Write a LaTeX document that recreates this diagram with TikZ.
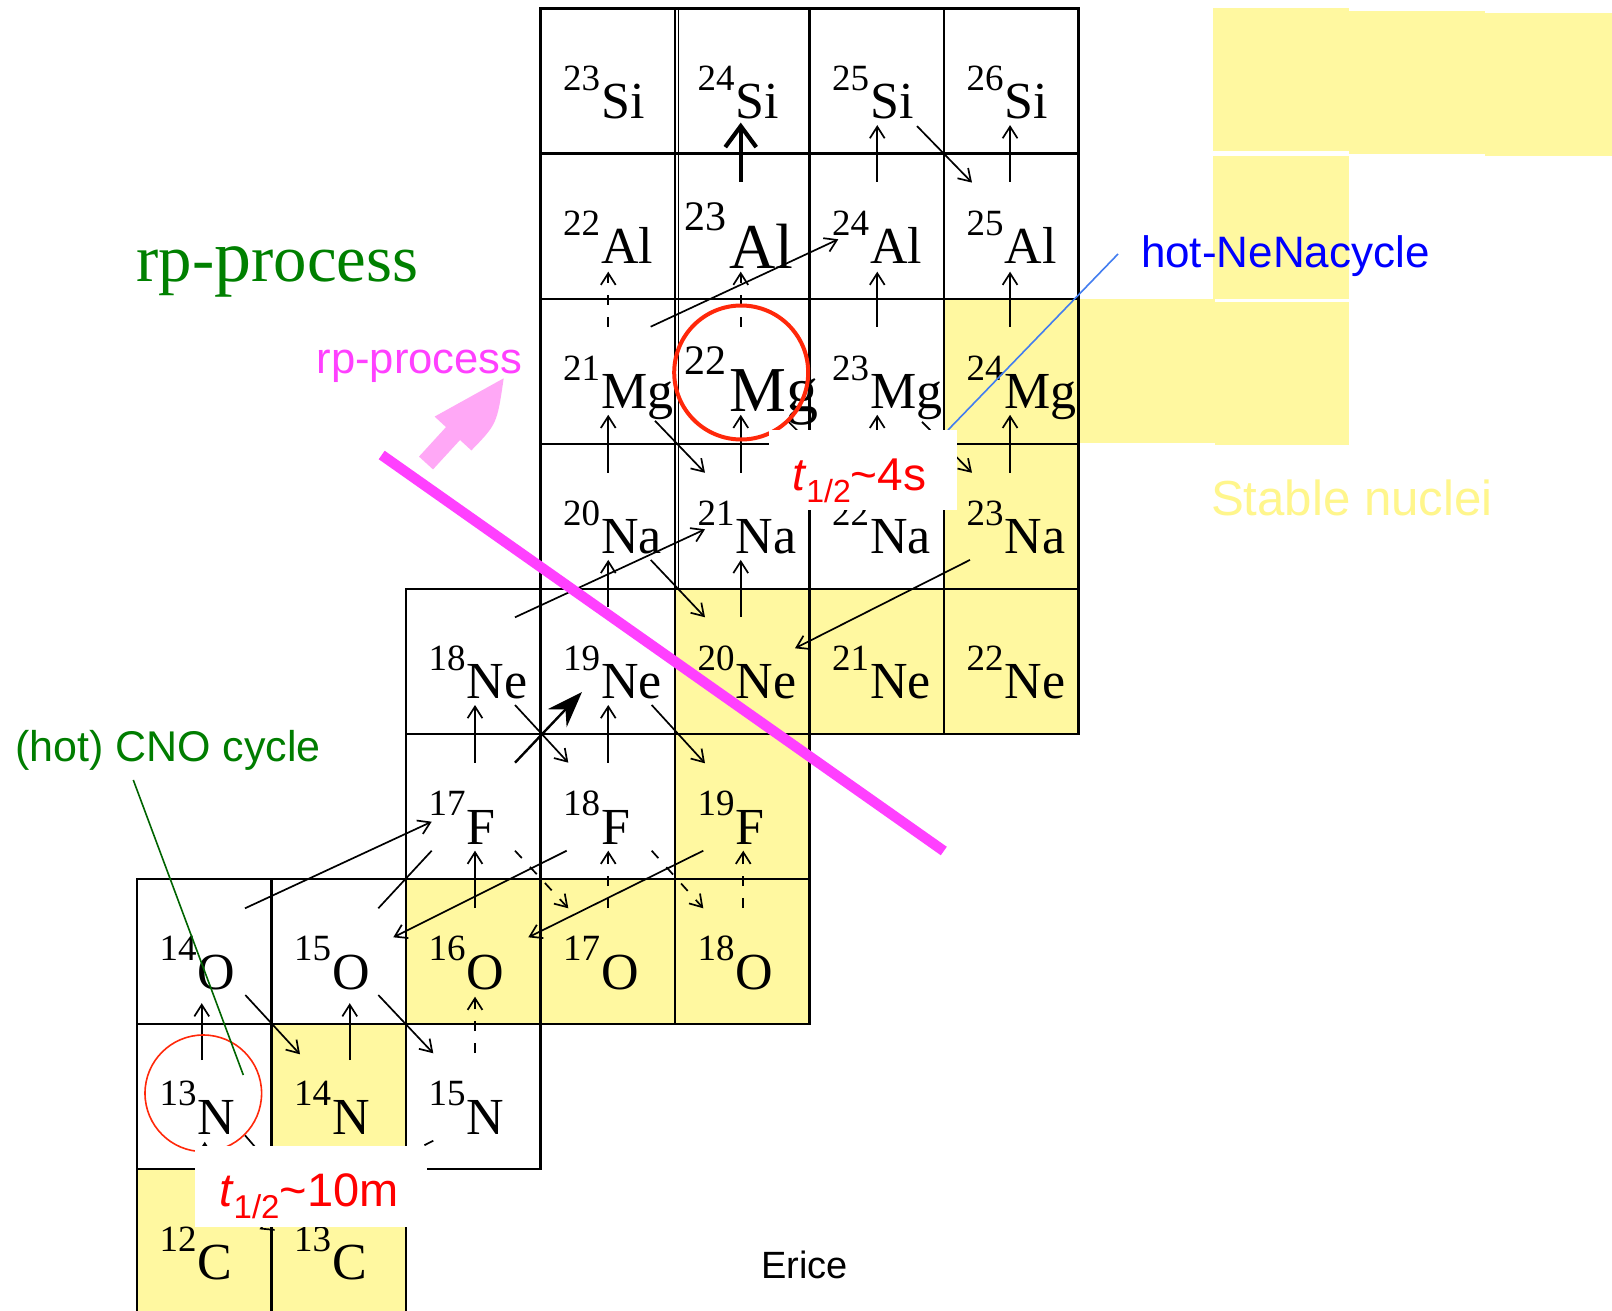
\documentclass[tikz,border=0pt]{standalone}
\usepackage{fontspec}
\setmainfont{Liberation Serif}
\newfontfamily\lsans{Liberation Sans}
\usetikzlibrary{arrows.meta,calc}

\definecolor{stable}{RGB}{255,248,160}
\definecolor{stabletext}{RGB}{255,246,140}
\definecolor{ringred}{RGB}{255,40,10}
\definecolor{halfred}{RGB}{255,0,0}
\definecolor{magline}{RGB}{255,64,255}
\definecolor{pinkarr}{RGB}{255,168,246}
\definecolor{rpgreen}{RGB}{0,128,0}
\definecolor{cnogreen}{RGB}{0,125,0}
\definecolor{cnoline}{RGB}{0,100,0}
\definecolor{nenablue}{RGB}{0,0,255}
\definecolor{nenaline}{RGB}{66,125,240}

% isotope labels: mass number raised, element symbol
\newcommand\iso[2]{\raisebox{14.15pt}{\fontsize{18.5}{18.5}\selectfont #1}\kern0.6pt{\fontsize{26}{26}\selectfont #2}}
\newcommand\isobig[2]{\raisebox{18.7pt}{\fontsize{21}{21}\selectfont #1}\kern1.8pt{\fontsize{32}{32}\selectfont #2}}

% one chart cell: name, column (N-6), row (14-Z), style
\newcommand\nucell[4]{%
  \pgfmathsetmacro\nucx{137+134.5*(#2)+67.25}%
  \pgfmathsetmacro\nucy{8.5+145.1*(#3)+72.55}%
  \node[cellbox,#4] (#1) at (\nucx,\nucy) {};}
% label of a chart cell: name, column, row, content
\newcommand\nulabel[4]{%
  \pgfmathsetmacro\nucx{137+134.5*(#2)+22.5}%
  \pgfmathsetmacro\nucy{8.5+145.1*(#3)+110}%
  \node[isolabel] (#1) at (\nucx,\nucy) {#4};}

\tikzset{
  cellbox/.style={draw=black, line width=1.1pt, minimum width=67.25pt,
    minimum height=72.55pt, inner sep=0pt, outer sep=0pt},
  plaincell/.style={fill=white},
  stablecell/.style={fill=stable},
  isolabel/.style={anchor=base west, inner sep=0pt, outer sep=0pt},
  arr/.style={line width=0.85pt, -{Straight Barb[length=5.8pt,width=7.4pt]}},
  dasharr/.style={arr, dash pattern=on 5pt off 6pt},
  thickarr/.style={line width=2.1pt, -{Straight Barb[length=10.5pt,width=15.5pt]}},
  breakout/.style={line width=1.2pt, -{Stealth[length=18pt,width=13pt,inset=6pt]}},
  ring/.style={draw=ringred, circle, inner sep=0pt, outer sep=0pt, fill=none},
  whitebox/.style={fill=white, draw=none, inner sep=0pt, outer sep=0pt},
  textlabel/.style={anchor=base west, inner sep=0pt, outer sep=0pt},
}

\begin{document}
\begin{tikzpicture}[x=0.5pt,y=-0.5pt]
\useasboundingbox (0,0) rectangle (1612,1311);
\fill[white] (0,0) rectangle (1612,1311);

% legend swatches
\fill[stable] (1213,7.6) rectangle (1348.7,150.7);
\fill[stable] (1348.7,11) rectangle (1485,154);
\fill[stable] (1485,13) rectangle (1612,156);
\fill[stable] (1213,156) rectangle (1348.7,299);
\fill[stable] (1078,299) rectangle (1215,443);
\fill[stable] (1215,302.4) rectangle (1348.7,444.8);

% chart cells
\nucell{si23}{3}{0}{plaincell}
\nucell{si24}{4}{0}{plaincell}
\nucell{si25}{5}{0}{plaincell}
\nucell{si26}{6}{0}{plaincell}
\nucell{al22}{3}{1}{plaincell}
\nucell{al23}{4}{1}{plaincell}
\nucell{al24}{5}{1}{plaincell}
\nucell{al25}{6}{1}{plaincell}
\nucell{mg21}{3}{2}{plaincell}
\nucell{mg22}{4}{2}{plaincell}
\nucell{mg23}{5}{2}{plaincell}
\nucell{mg24}{6}{2}{stablecell}
\nucell{na20}{3}{3}{plaincell}
\nucell{na21}{4}{3}{plaincell}
\nucell{na22}{5}{3}{plaincell}
\nucell{na23}{6}{3}{stablecell}
\nucell{ne18}{2}{4}{plaincell}
\nucell{ne19}{3}{4}{plaincell}
\nucell{ne20}{4}{4}{stablecell}
\nucell{ne21}{5}{4}{stablecell}
\nucell{ne22}{6}{4}{stablecell}
\nucell{f17}{2}{5}{plaincell}
\nucell{f18}{3}{5}{plaincell}
\nucell{f19}{4}{5}{stablecell}
\nucell{o14}{0}{6}{plaincell}
\nucell{o15}{1}{6}{plaincell}
\nucell{o16}{2}{6}{stablecell}
\nucell{o17}{3}{6}{stablecell}
\nucell{o18}{4}{6}{stablecell}
\nucell{n13}{0}{7}{plaincell}
\nucell{n14}{1}{7}{stablecell}
\nucell{n15}{2}{7}{plaincell}
\nucell{c12}{0}{8}{stablecell}
\nucell{c13}{1}{8}{stablecell}
% doubled rule between the N=9 and N=10 columns
\draw[line width=0.9pt] ($(si24.north west)+(3.5,0)$) -- ($(na21.south west)+(3.5,0)$);

% cell labels
\nulabel{si23l}{3}{0}{\iso{23}{Si}}
\nulabel{si24l}{4}{0}{\iso{24}{Si}}
\nulabel{si25l}{5}{0}{\iso{25}{Si}}
\nulabel{si26l}{6}{0}{\iso{26}{Si}}
\nulabel{al22l}{3}{1}{\iso{22}{Al}}
\node[isolabel] (al23l) at (684,268.3) {\isobig{23}{Al}};
\nulabel{al24l}{5}{1}{\iso{24}{Al}}
\nulabel{al25l}{6}{1}{\iso{25}{Al}}
\nulabel{mg21l}{3}{2}{\iso{21}{Mg}}
\node[isolabel] (mg22l) at (684,411.7) {\isobig{22}{Mg}};
\nulabel{mg23l}{5}{2}{\iso{23}{Mg}}
\nulabel{mg24l}{6}{2}{\iso{24}{Mg}}
\nulabel{na20l}{3}{3}{\iso{20}{Na}}
\nulabel{na21l}{4}{3}{\iso{21}{Na}}
\nulabel{na22l}{5}{3}{\iso{22}{Na}}
\nulabel{na23l}{6}{3}{\iso{23}{Na}}
\nulabel{ne18l}{2}{4}{\iso{18}{Ne}}
\nulabel{ne19l}{3}{4}{\iso{19}{Ne}}
\nulabel{ne20l}{4}{4}{\iso{20}{Ne}}
\nulabel{ne21l}{5}{4}{\iso{21}{Ne}}
\nulabel{ne22l}{6}{4}{\iso{22}{Ne}}
\nulabel{f17l}{2}{5}{\iso{17}{F}}
\nulabel{f18l}{3}{5}{\iso{18}{F}}
\nulabel{f19l}{4}{5}{\iso{19}{F}}
\nulabel{o14l}{0}{6}{\iso{14}{O}}
\nulabel{o15l}{1}{6}{\iso{15}{O}}
\nulabel{o16l}{2}{6}{\iso{16}{O}}
\nulabel{o17l}{3}{6}{\iso{17}{O}}
\nulabel{o18l}{4}{6}{\iso{18}{O}}
\nulabel{n13l}{0}{7}{\iso{13}{N}}
\nulabel{n14l}{1}{7}{\iso{14}{N}}
\nulabel{n15l}{2}{7}{\iso{15}{N}}
\nulabel{c12l}{0}{8}{\iso{12}{C}}
\nulabel{c13l}{1}{8}{\iso{13}{C}}

% Al -> Si
\draw[thickarr] ($(al23.north)+(-1.5,28)$) -- ($(si24.south)+(-1.5,-31)$);
\draw[arr] ($(al24.north)+(0.5,28)$) -- ($(si25.south)+(0.5,-28.5)$);
\draw[arr] ($(al25.north)+(-1.2,28)$) -- ($(si26.south)+(-1.2,-28.5)$);
\draw[arr] ($(si25.south east)+(-27,-27.5)$) -- ($(al25.north west)+(28,29)$);
% Mg -> Al
\draw[dasharr] ($(mg21.north)+(0.5,28)$) -- ($(al22.south)+(0.5,-27)$);
\draw[dasharr] ($(mg22.north)+(-1.5,28)$) -- ($(al23.south)+(-1.5,-27)$);
\draw[arr] ($(mg23.north)+(0.5,28)$) -- ($(al24.south)+(0.5,-27)$);
\draw[arr] ($(mg24.north)+(-1.2,28)$) -- ($(al25.south)+(-1.2,-27)$);
\draw[arr] ($(mg21.north east)+(-24.3,28)$) -- ($(al24.south west)+(28.8,-59.4)$);
% Na -> Mg
\draw[arr] ($(na20.north)+(0.5,29)$) -- ($(mg21.south)+(0.5,-29)$);
\draw[arr] ($(na21.north)+(-1.5,29)$) -- ($(mg22.south)+(-1.5,-29)$);
\draw[arr] ($(na22.north)+(0.5,29)$) -- ($(mg23.south)+(0.5,-29)$);
\draw[arr] ($(na23.north)+(-1.2,29)$) -- ($(mg24.south)+(-1.2,-29)$);
\draw[arr] ($(mg21.south east)+(-20,-23)$) -- ($(na21.north west)+(30,29)$);
\draw[arr] ($(mg22.south east)+(-22,-23)$) -- ($(na22.north west)+(30,29)$);
\draw[arr] ($(mg23.south east)+(-22,-22)$) -- ($(na23.north west)+(28,29)$);
% Ne -> Na
\draw[arr] ($(ne19.north)+(0.5,18)$) -- ($(na20.south)+(0.5,-29)$);
\draw[arr] ($(ne20.north)+(-1.5,28)$) -- ($(na21.south)+(-1.5,-29)$);
\draw[arr] ($(na20.south east)+(-24.3,-29)$) -- ($(ne20.north west)+(30,28.4)$);
\draw[arr] ($(ne18.north east)+(-25.5,28.4)$) -- ($(na21.south west)+(30,-59.6)$);
\draw[arr] ($(na23.south west)+(26,-29)$) -- ($(ne20.north east)+(-14.5,59.4)$);
% F -> Ne
\draw[arr] ($(f17.north)+(1.75,28.7)$) -- ($(ne18.south)+(1.75,-29)$);
\draw[arr] ($(f18.north)+(0.5,28.7)$) -- ($(ne19.south)+(0.5,-29)$);
\draw[arr] ($(ne18.south east)+(-25.5,-29)$) -- ($(f18.north west)+(27.8,28.7)$);
\draw[arr] ($(ne19.south east)+(-23.3,-29)$) -- ($(f19.north west)+(30,29.3)$);
% O -> F
\draw[arr] ($(o16.north)+(1.75,29)$) -- ($(f17.south)+(1.75,-28.4)$);
\draw[dasharr] ($(o17.north)+(0.5,29)$) -- ($(f18.south)+(0.5,-28.4)$);
\draw[dasharr] ($(o18.north)+(1,29)$) -- ($(f19.south)+(1,-28.4)$);
\draw[dasharr] ($(f17.south east)+(-25.5,-28.4)$) -- ($(o17.north west)+(27.8,29.2)$);
\draw[dasharr] ($(f18.south east)+(-23.3,-28.4)$) -- ($(o18.north west)+(28.3,29.2)$);
\draw[arr] ($(f18.south west)+(26.2,-28.4)$) -- ($(o15.north east)+(-12.7,58.2)$);
\draw[arr] ($(f19.south west)+(28.3,-28.4)$) -- ($(o16.north east)+(-12.2,58.2)$);
\draw[arr] ($(o14.north east)+(-26.5,29.2)$) -- ($(f17.south west)+(25.7,-57.4)$);
% breakout 15O -> 19Ne
\coordinate (bo1) at ($(o15.north east)+(-27.7,29.2)$);
\coordinate (bo2) at ($(f17.south west)+(25.7,-28.4)$);
\coordinate (bo3) at ($(f17.north east)+(-25.5,28.7)$);
\draw[line width=0.85pt] (bo1) -- (bo2);
\draw[breakout] (bo3) -- ($(ne19.south west)+(41.5,-42)$);
% N -> O
\draw[arr] ($(n13.north)+(-2.5,36)$) -- ($(o14.south)+(-2.5,-21)$);
\draw[arr] ($(n14.north)+(11,36)$) -- ($(o15.south)+(11,-21)$);
\draw[dasharr] ($(n15.north)+(1.75,29)$) -- ($(o16.south)+(1.75,-27.5)$);
\draw[arr] ($(o14.south east)+(-26.2,-29.2)$) -- ($(n14.north west)+(28.5,30.1)$);
\draw[arr] ($(o15.south east)+(-27.7,-29.2)$) -- ($(n15.north west)+(27.3,29.1)$);
% C -> N
\draw[arr] ($(c12.north)+(0.5,29)$) -- ($(n13.south)+(0.5,-27.5)$);
\draw[arr] ($(n13.south east)+(-26.5,-34)$) -- ($(c13.north west)+(28,29)$);
\draw[dasharr] ($(n15.south west)+(27.3,-28.6)$) -- ($(c12.north east)+(-12,60)$);

% short-lived waiting points
\node[ring, minimum size=67pt, line width=2pt] (mg22ring) at (741.2,372.5) {};
\node[ring, minimum size=58.3pt, line width=0.8pt] (n13ring) at (203.3,1093.3) {};

% rp-process boundary and direction
\draw[magline, line width=5.2pt] (381.7,455) -- (943.8,851);
\fill[pinkarr] (419,456.6) -- (433,469.4) -- (460,440) -- (471.4,450.4)
  .. controls (497,424) .. (503.7,378.3) -- (434.6,416.6) -- (446,427.1) -- cycle;

% leader lines
\coordinate (cnoA) at (133.3,780);
\coordinate (cnoB) at (243.3,1075);
\draw[cnoline, line width=0.8pt] (cnoA) -- (cnoB);
\coordinate (nenaA) at (948,430);
\coordinate (nenaB) at (1118,254);
\draw[nenaline, line width=0.8pt] (nenaA) -- (nenaB);

% half-life tags
\node[whitebox, minimum width=93.7pt, minimum height=40pt] (box4s) at (863,470) {};
\node[textlabel, text=halfred, font=\lsans\fontsize{23}{23}\selectfont] (t4s) at (792,490)
  {\textit{t}\raisebox{-6pt}{\fontsize{16}{16}\selectfont 1/2}\textasciitilde 4s};
\node[whitebox, minimum width=115.85pt, minimum height=40.35pt] (box10m) at (310.85,1186.35) {};
\node[textlabel, text=halfred, font=\lsans\fontsize{23.5}{23.5}\selectfont] (t10m) at (219,1206.7)
  {\textit{t}\raisebox{-6pt}{\fontsize{16.5}{16.5}\selectfont 1/2}\textasciitilde 10m};

% captions
\node[textlabel, text=rpgreen, font=\fontsize{33.4}{33.4}\selectfont] (rpserif) at (136.7,281)
  {rp-{\fontsize{37}{37}\selectfont p}rocess};
\node[textlabel, text=magline, font=\lsans\fontsize{21.8}{21.8}\selectfont] (rpsans) at (316.6,373)
  {rp-process};
\node[textlabel, text=cnogreen, font=\lsans\fontsize{21.5}{21.5}\selectfont] (cno) at (15,761)
  {(hot) CNO cycle};
\node[textlabel, text=nenablue, font=\lsans\fontsize{22}{22}\selectfont] (nena) at (1141,267)
  {hot-NeNacycle};
\node[textlabel, text=stabletext, font=\lsans\fontsize{24.6}{24.6}\selectfont] (stab) at (1211,515)
  {Stable nuclei};
\node[textlabel, text=black, font=\lsans\fontsize{19}{19}\selectfont] (erice) at (761,1278)
  {Erice};
\end{tikzpicture}
\end{document}
